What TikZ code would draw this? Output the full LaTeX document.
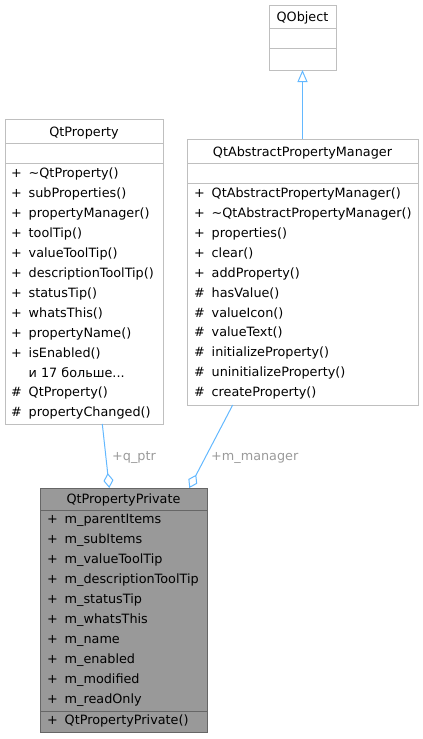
\documentclass[tikz,border=0pt]{standalone}
\usepackage{fontspec}
\setmainfont{DejaVu Sans}
\usetikzlibrary{arrows.meta}
\definecolor{edgeblue}{HTML}{63B8FF}
\definecolor{lblgray}{HTML}{9A9A9A}
\definecolor{boxline}{HTML}{BFBFBF}
\definecolor{privfill}{HTML}{999999}
\definecolor{privline}{HTML}{666666}
\newcommand\umlm[2]{\makebox[17.5pt][l]{#1}#2}
\begin{document}
\begin{tikzpicture}[x=1pt,y=-1pt,
  every node/.style={font=\fontsize{12.8}{15}\selectfont},
  cls/.style={draw=boxline, fill=white, line width=1pt, rectangle, inner sep=0pt, anchor=north west},
  privcls/.style={cls, draw=privline, fill=privfill},
  ttl/.style={inner sep=0pt, anchor=base},
  mem/.style={inner sep=0pt, anchor=base west},
  sepline/.style={draw=boxline, line width=1pt},
  privsep/.style={draw=privline, line width=1pt},
  inherit/.style={draw=edgeblue, line width=1pt, -{Triangle[open,length=12pt,width=10pt]}},
  aggr/.style={draw=edgeblue, line width=1pt, -{Diamond[open,length=15pt,width=10pt]}},
  elabel/.style={text=lblgray, inner sep=0pt, anchor=base west}]
\useasboundingbox (0,0) rectangle (423,739);

% QObject
\node[cls, minimum width=67pt, minimum height=65pt] (qobj) at (269,5) {};
\node[ttl] (qobjt) at (302.5,21.5) {QObject};
\draw[sepline] (qobj.west |- 0,28.5) -- (qobj.east |- 0,28.5);
\draw[sepline] (qobj.west |- 0,48.5) -- (qobj.east |- 0,48.5);

% QtProperty
\node[cls, minimum width=158pt, minimum height=305pt] (qprop) at (5,119) {};
\node[ttl] (qpropt) at (84,136) {QtProperty};
\draw[sepline] (qprop.west |- 0,143.3) -- (qprop.east |- 0,143.3);
\draw[sepline] (qprop.west |- 0,163.3) -- (qprop.east |- 0,163.3);
\foreach \s/\t [count=\i from 0] in {+/\textasciitilde QtProperty(), +/subProperties(), +/propertyManager(), +/toolTip(), +/valueToolTip(), +/descriptionToolTip(), +/statusTip(), +/whatsThis(), +/propertyName(), +/isEnabled(), {}/{и 17 больше...}, {\#}/QtProperty(), {\#}/propertyChanged()}
  \node[mem] (qpm\i) at (11,177.5+19.95*\i) {\umlm{\s}{\t}};

% QtAbstractPropertyManager
\node[cls, minimum width=231pt, minimum height=266pt] (qapm) at (187,139) {};
\node[ttl] (qapmt) at (302.5,156) {QtAbstractPropertyManager};
\draw[sepline] (qapm.west |- 0,163.3) -- (qapm.east |- 0,163.3);
\draw[sepline] (qapm.west |- 0,183.3) -- (qapm.east |- 0,183.3);
\foreach \s/\t [count=\i from 0] in {+/QtAbstractPropertyManager(), +/\textasciitilde QtAbstractPropertyManager(), +/properties(), +/clear(), +/addProperty(), {\#}/hasValue(), {\#}/valueIcon(), {\#}/valueText(), {\#}/initializeProperty(), {\#}/uninitializeProperty(), {\#}/createProperty()}
  \node[mem] (qam\i) at (194,197.3+19.95*\i) {\umlm{\s}{\t}};

% QtPropertyPrivate
\node[privcls, minimum width=167pt, minimum height=244pt] (priv) at (40,488) {};
\node[ttl] (privt) at (123.5,503.5) {QtPropertyPrivate};
\draw[privsep] (priv.west |- 0,510) -- (priv.east |- 0,510);
\draw[privsep] (priv.west |- 0,711.7) -- (priv.east |- 0,711.7);
\foreach \t [count=\i from 0] in {m\_parentItems, m\_subItems, m\_valueToolTip, m\_descriptionToolTip, m\_statusTip, m\_whatsThis, m\_name, m\_enabled, m\_modified, m\_readOnly}
  \node[mem] (pm\i) at (47,523.5+19.95*\i) {\umlm{+}{\t}};
\node[mem] (pmeth) at (47,724) {\umlm{+}{QtPropertyPrivate()}};

% connectors
\coordinate (qapm_top) at (302.5,139);
\coordinate (qobj_bot) at (302.5,70);
\draw[inherit] (qapm_top) -- (qobj_bot);

\coordinate (qp_out) at (102.3,424);
\coordinate (priv_in1) at (109.3,488);
\draw[aggr] (qp_out) -- (priv_in1);

\coordinate (qam_out) at (232.7,405);
\coordinate (priv_in2) at (189.3,488);
\draw[aggr] (qam_out) -- (priv_in2);

\node[elabel] (lq) at (112,460) {+q\_ptr};
\node[elabel] (lm) at (211,460) {+m\_manager};
\end{tikzpicture}
\end{document}
